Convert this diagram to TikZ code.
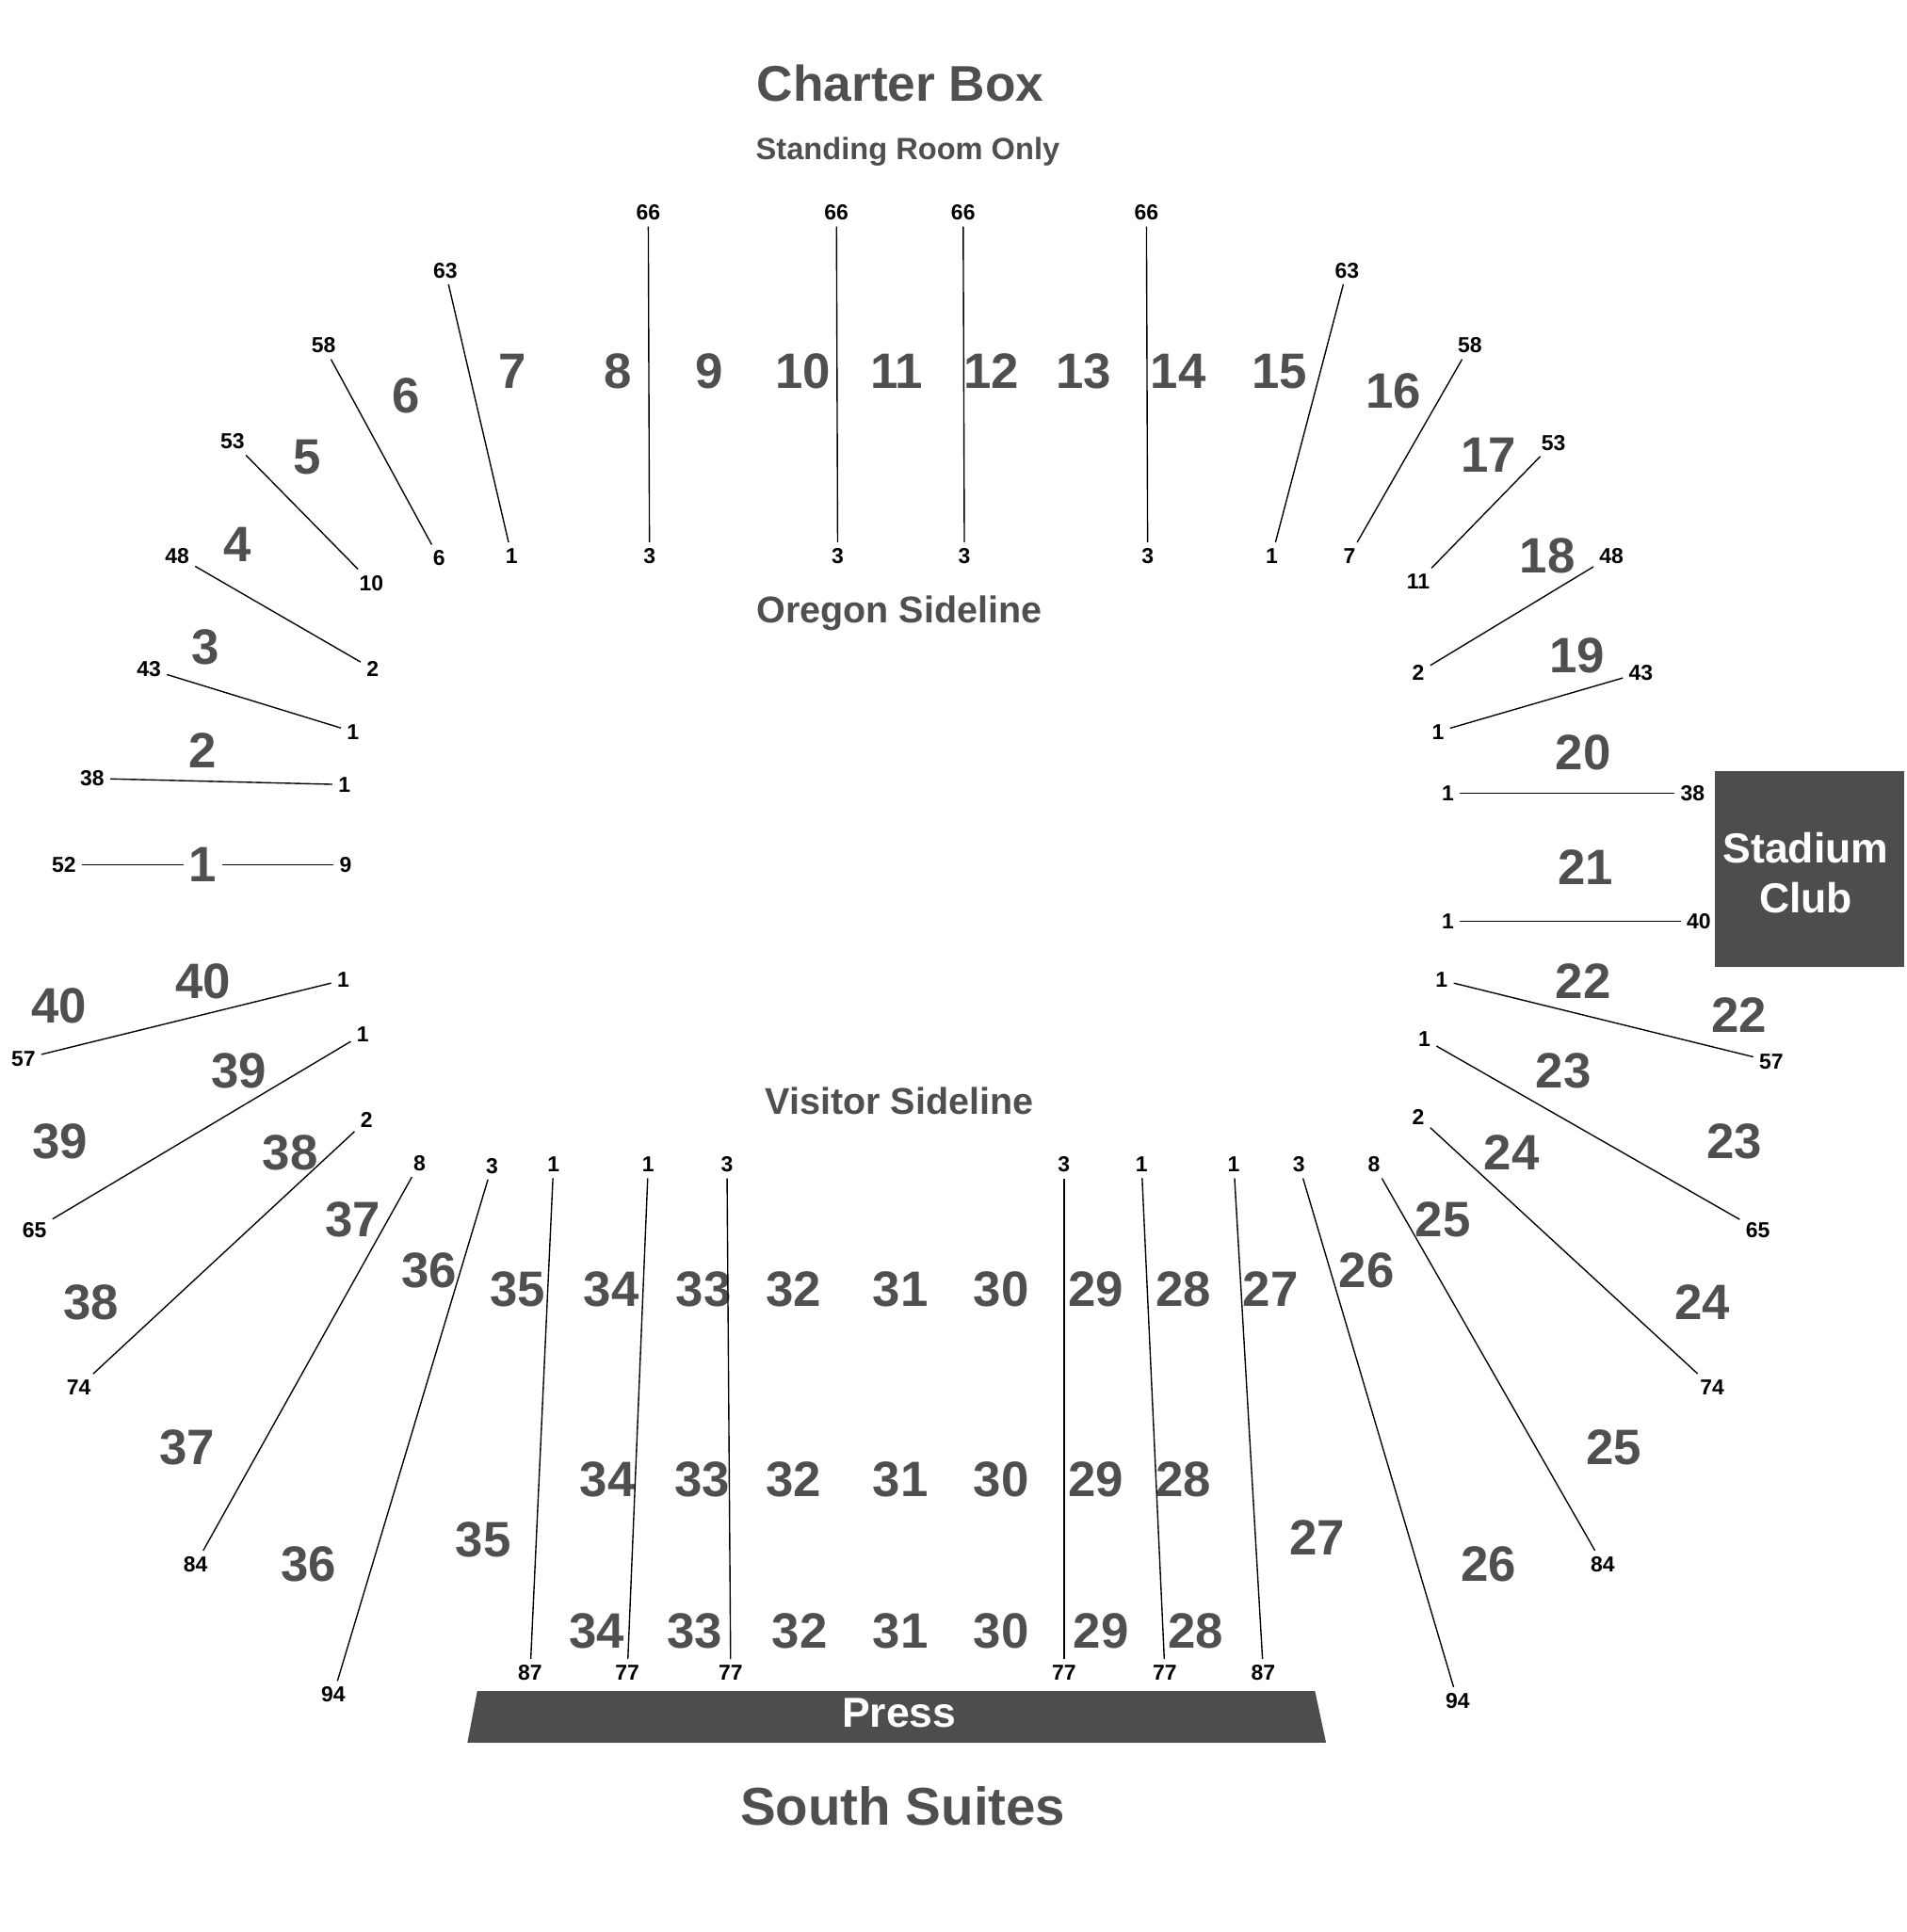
\documentclass[tikz,border=0pt]{standalone}
\usepackage{fontspec}
\setmainfont{Liberation Sans}
\usepackage{xcolor}

\definecolor{secgray}{HTML}{4F4F4F}
\definecolor{boxgray}{HTML}{4D4D4D}

\tikzset{
    sec/.style={font=\fontsize{11.5}{12}\selectfont\bfseries, text=secgray, inner sep=1pt},
    rownum/.style={font=\fontsize{5}{6}\selectfont\bfseries, inner sep=1.2pt},
    rowline/.style={draw=black, line width=0.3pt},
    bigtitle/.style={font=\fontsize{11.6}{13}\selectfont\bfseries, text=secgray},
    sideline/.style={font=\fontsize{8.6}{10}\selectfont\bfseries, text=secgray},
}

\begin{document}
\begin{tikzpicture}[x=0.01cm, y=-0.01cm]
        \useasboundingbox (0,0) rectangle (1550,1571);

        % titles
        \node[bigtitle] (charter) at (732,68) {Charter Box};
        \node[font=\fontsize{7.1}{8}\selectfont\bfseries, text=secgray] (standing) at (738,123) {Standing Room Only};
        \node[sideline] (oregon) at (731,499) {Oregon Sideline};
        \node[sideline] (visitor) at (731,895) {Visitor Sideline};
        \node[bigtitle, font=\fontsize{12.3}{14}\selectfont\bfseries] (south) at (734,1469) {South Suites};

        % press and stadium club
        \fill[boxgray] (388,1375) -- (1069,1375) -- (1078,1417) -- (380,1417) -- cycle;
        \node[font=\fontsize{9.7}{11}\selectfont\bfseries, text=white] (press) at (731,1393) {Press};
        \fill[boxgray] (1394,627) rectangle (1548,786);
        \node[font=\fontsize{9.7}{11.5}\selectfont\bfseries, text=white, align=center] (club) at (1468,710) {Stadium\\Club};

        % sections, north side
        \node[sec] (s7) at (417,302) {7};
        \node[sec] (s8) at (502,302) {8};
        \node[sec] (s9) at (577,302) {9};
        \node[sec] (s10) at (653,302) {10};
        \node[sec] (s11) at (729,302) {11};
        \node[sec] (s12) at (806,302) {12};
        \node[sec] (s13) at (881,302) {13};
        \node[sec] (s14) at (958,302) {14};
        \node[sec] (s15) at (1040,302) {15};
        \node[sec] (s16) at (1133,318) {16};
        \node[sec] (s17) at (1210,370) {17};
        \node[sec] (s18) at (1258,452) {18};
        \node[sec] (s19) at (1282,533) {19};
        \node[sec] (s20) at (1287,612) {20};
        \node[sec] (s21) at (1289,705) {21};
        \node[sec] (s22a) at (1287,798) {22};
        \node[sec] (s22b) at (1414,825) {22};
        \node[sec] (s23a) at (1271,871) {23};
        \node[sec] (s23b) at (1410,928) {23};
        \node[sec] (s24a) at (1229,937) {24};
        \node[sec] (s24b) at (1384,1059) {24};
        \node[sec] (s25a) at (1173,992) {25};
        \node[sec] (s25b) at (1312,1177) {25};
        \node[sec] (s26a) at (1111,1033) {26};
        \node[sec] (s26b) at (1210,1272) {26};
        \node[sec] (s27a) at (1033,1048) {27};
        \node[sec] (s27b) at (1071,1250) {27};

        \node[sec] (s6) at (330,322) {6};
        \node[sec] (s5) at (250,372) {5};
        \node[sec] (s4) at (193,443) {4};
        \node[sec] (s3) at (167,526) {3};
        \node[sec] (s2) at (165,610) {2};
        \node[sec] (s1) at (165,703) {1};
        \node[sec] (s40a) at (165,798) {40};
        \node[sec] (s40b) at (48,818) {40};
        \node[sec] (s39a) at (194,871) {39};
        \node[sec] (s39b) at (49,928) {39};
        \node[sec] (s38a) at (236,937) {38};
        \node[sec] (s38b) at (74,1059) {38};
        \node[sec] (s37a) at (287,992) {37};
        \node[sec] (s37b) at (152,1177) {37};
        \node[sec] (s36a) at (349,1033) {36};
        \node[sec] (s36b) at (251,1272) {36};
        \node[sec] (s35a) at (421,1048) {35};
        \node[sec] (s35b) at (393,1252) {35};

        % sections, south side (three rows)
        \node[sec] (s34a) at (497,1048) {34};
        \node[sec] (s33a) at (572,1048) {33};
        \node[sec] (s32a) at (645,1048) {32};
        \node[sec] (s31a) at (732,1048) {31};
        \node[sec] (s30a) at (814,1048) {30};
        \node[sec] (s29a) at (891,1048) {29};
        \node[sec] (s28a) at (962,1048) {28};
        \node[sec] (s34b) at (494,1203) {34};
        \node[sec] (s33b) at (571,1203) {33};
        \node[sec] (s32b) at (645,1203) {32};
        \node[sec] (s31b) at (732,1203) {31};
        \node[sec] (s30b) at (814,1203) {30};
        \node[sec] (s29b) at (891,1203) {29};
        \node[sec] (s28b) at (962,1203) {28};
        \node[sec] (s34c) at (485,1326) {34};
        \node[sec] (s33c) at (565,1326) {33};
        \node[sec] (s32c) at (650,1326) {32};
        \node[sec] (s31c) at (732,1326) {31};
        \node[sec] (s30c) at (814,1326) {30};
        \node[sec] (s29c) at (895,1326) {29};
        \node[sec] (s28c) at (972,1326) {28};

        % row numbers, north
        \node[rownum] (t66a) at (527,173) {66};
        \node[rownum] (t3a) at (528,452) {3};
        \node[rownum] (t66b) at (680,173) {66};
        \node[rownum] (t3b) at (681,452) {3};
        \node[rownum] (t66c) at (783,173) {66};
        \node[rownum] (t3c) at (784,452) {3};
        \node[rownum] (t66d) at (932,173) {66};
        \node[rownum] (t3d) at (933,452) {3};

        \node[rownum] (l63) at (362,220) {63};
        \node[rownum] (l1a) at (416,452) {1};
        \node[rownum] (l58) at (263,281) {58};
        \node[rownum] (l6) at (357,454) {6};
        \node[rownum] (l53) at (189,359) {53};
        \node[rownum] (l10) at (302,474) {10};
        \node[rownum] (l48) at (144,452) {48};
        \node[rownum] (l2a) at (303,544) {2};
        \node[rownum] (l43) at (121,544) {43};
        \node[rownum] (l1b) at (287,595) {1};
        \node[rownum] (l38) at (75,633) {38};
        \node[rownum] (l1c) at (280,638) {1};
        \node[rownum] (l52) at (52,703) {52};
        \node[rownum] (l9) at (281,703) {9};

        \node[rownum] (r63) at (1095,220) {63};
        \node[rownum] (r1a) at (1034,452) {1};
        \node[rownum] (r58) at (1195,281) {58};
        \node[rownum] (r7) at (1097,452) {7};
        \node[rownum] (r53) at (1263,360) {53};
        \node[rownum] (r11) at (1153,473) {11};
        \node[rownum] (r48) at (1310,452) {48};
        \node[rownum] (r2a) at (1153,547) {2};
        \node[rownum] (r43) at (1334,547) {43};
        \node[rownum] (r1b) at (1169,595) {1};
        \node[rownum] (r38) at (1376,645) {38};
        \node[rownum] (r1c) at (1177,645) {1};
        \node[rownum] (r40) at (1381,749) {40};
        \node[rownum] (r1d) at (1177,749) {1};

        % row numbers, south
        \node[rownum] (r57) at (1440,863) {57};
        \node[rownum] (r1e) at (1172,797) {1};
        \node[rownum] (r65) at (1429,1000) {65};
        \node[rownum] (r1f) at (1158,845) {1};
        \node[rownum] (r74) at (1392,1128) {74};
        \node[rownum] (r2b) at (1153,908) {2};
        \node[rownum] (r84) at (1303,1272) {84};
        \node[rownum] (r8) at (1117,947) {8};
        \node[rownum] (r94) at (1185,1383) {94};
        \node[rownum] (r3a) at (1056,947) {3};
        \node[rownum] (r87) at (1027,1360) {87};
        \node[rownum] (r1g) at (1003,947) {1};
        \node[rownum] (r77a) at (947,1360) {77};
        \node[rownum] (r1h) at (928,947) {1};
        \node[rownum] (r77b) at (865,1360) {77};
        \node[rownum] (r3b) at (865,947) {3};

        \node[rownum] (l57) at (19,861) {57};
        \node[rownum] (l1d) at (279,797) {1};
        \node[rownum] (l65) at (28,1000) {65};
        \node[rownum] (l1e) at (295,841) {1};
        \node[rownum] (l74) at (64,1128) {74};
        \node[rownum] (l2b) at (298,911) {2};
        \node[rownum] (l84) at (159,1272) {84};
        \node[rownum] (l8) at (341,946) {8};
        \node[rownum] (l94) at (271,1378) {94};
        \node[rownum] (l3a) at (400,948) {3};
        \node[rownum] (l87) at (431,1360) {87};
        \node[rownum] (l1f) at (450,947) {1};
        \node[rownum] (l77a) at (510,1360) {77};
        \node[rownum] (l1g) at (527,947) {1};
        \node[rownum] (l77b) at (594,1360) {77};
        \node[rownum] (l3b) at (591,947) {3};

        % aisle lines
        \draw[rowline] (t66a) -- (t3a);
        \draw[rowline] (t66b) -- (t3b);
        \draw[rowline] (t66c) -- (t3c);
        \draw[rowline] (t66d) -- (t3d);
        \draw[rowline] (l63) -- (l1a);
        \draw[rowline] (l58) -- (l6);
        \draw[rowline] (l53) -- (l10);
        \draw[rowline] (l48) -- (l2a);
        \draw[rowline] (l43) -- (l1b);
        \draw[rowline] (l38) -- (l1c);
        \draw[rowline] (l52) -- (s1);
        \draw[rowline] (s1) -- (l9);
        \draw[rowline] (r63) -- (r1a);
        \draw[rowline] (r58) -- (r7);
        \draw[rowline] (r53) -- (r11);
        \draw[rowline] (r48) -- (r2a);
        \draw[rowline] (r43) -- (r1b);
        \draw[rowline] (r1c) -- (r38);
        \draw[rowline] (r1d) -- (r40);
        \draw[rowline] (r1e) -- (r57);
        \draw[rowline] (r1f) -- (r65);
        \draw[rowline] (r2b) -- (r74);
        \draw[rowline] (r8) -- (r84);
        \draw[rowline] (r3a) -- (r94);
        \draw[rowline] (r1g) -- (r87);
        \draw[rowline] (r1h) -- (r77a);
        \draw[rowline] (r3b) -- (r77b);
        \draw[rowline] (l1d) -- (l57);
        \draw[rowline] (l1e) -- (l65);
        \draw[rowline] (l2b) -- (l74);
        \draw[rowline] (l8) -- (l84);
        \draw[rowline] (l3a) -- (l94);
        \draw[rowline] (l1f) -- (l87);
        \draw[rowline] (l1g) -- (l77a);
        \draw[rowline] (l3b) -- (l77b);
\end{tikzpicture}
\end{document}
